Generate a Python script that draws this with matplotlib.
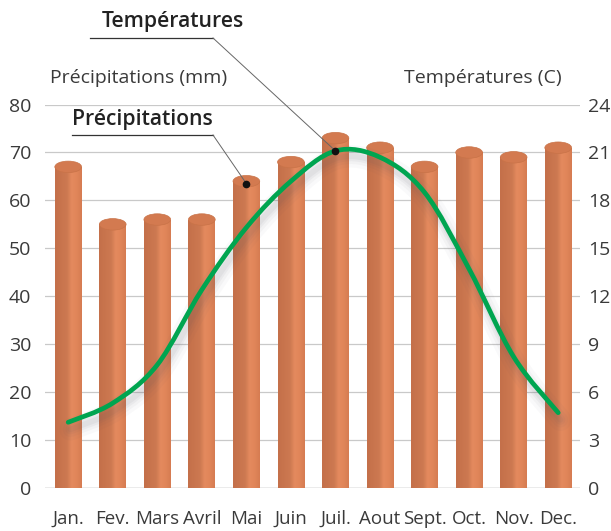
import matplotlib.pyplot as plt
import numpy as np
from matplotlib.patches import Rectangle, Ellipse, PathPatch
from matplotlib.path import Path

months = ["Jan.", "Fev.", "Mars", "Avril", "Mai", "Juin", "Juil.", "Aout",
          "Sept.", "Oct.", "Nov.", "Dec."]
precip = [67, 55, 56, 56, 64, 68, 73, 71, 67, 70, 69, 71]
temps = [4.1, 5.3, 7.7, 12.4, 16.3, 19.2, 21.1, 20.7, 18.5, 13.7, 8.2, 4.7]
left_ticks = [0, 10, 20, 30, 40, 50, 60, 70, 80]
right_ticks = [0, 3, 6, 9, 12, 15, 18, 21, 24]

FONT = "Open Sans"
TXT = "#3a3a3a"
GREEN = "#00a550"

fig = plt.figure(figsize=(6.11, 5.31), dpi=100)
ax = fig.add_axes([0.0737, 0.0815, 0.8756, 0.7215])
ax.set_xlim(-0.52, 11.49)
ax.set_ylim(0, 80)
for s in ax.spines.values():
    s.set_visible(False)

for t in left_ticks[1:]:
    ax.axhline(t, color="#c9c9c9", lw=0.9, zorder=0)
ax.axhline(0, color="#9a9a9a", lw=1.0, zorder=0)

ax.set_yticks(left_ticks)
ax.set_yticklabels([str(t) for t in left_ticks], fontsize=14, color=TXT, family=FONT)
ax.set_xticks(range(12))
ax.set_xticklabels(months, fontsize=13.5, color=TXT, family=FONT)
ax.tick_params(axis="x", length=0, pad=16)
ax.tick_params(axis="y", length=0, pad=10)

# cylinder gradient (left to right)
stops = np.array([0.0, 0.2, 0.45, 0.62, 0.8, 1.0])
cols = np.array([[196, 112, 74], [200, 116, 77], [205, 121, 81],
                 [228, 138, 94], [225, 134, 90], [214, 124, 82]]) / 255.0
xs = np.linspace(0, 1, 64)
grad = np.stack([np.interp(xs, stops, cols[:, c]) for c in range(3)], axis=-1)
grad = grad[np.newaxis, :, :]

bw = 0.6
eh = 2.4
for i, v in enumerate(precip):
    x0 = i - bw / 2
    body = Rectangle((x0, 0), bw, v, transform=ax.transData, facecolor="none",
                     edgecolor="none")
    ax.add_patch(body)
    im = ax.imshow(grad, extent=(x0, x0 + bw, 0, v), aspect="auto", zorder=2,
                   interpolation="bilinear")
    im.set_clip_path(body)
    bot = Ellipse((i, 0), bw, eh, transform=ax.transData, facecolor="none",
                  edgecolor="none")
    ax.add_patch(bot)
    im2 = ax.imshow(grad, extent=(x0, x0 + bw, -eh, 0.5), aspect="auto",
                    zorder=2, interpolation="bilinear")
    im2.set_clip_path(bot)
    ax.add_patch(Ellipse((i, v), bw, eh, facecolor="#d37a50",
                         edgecolor="#c97348", lw=0.5, zorder=3))

# temperature curve on the right axis
ax2 = ax.twinx()
ax2.set_ylim(0, 24)
ax2.set_xlim(ax.get_xlim())
for s in ax2.spines.values():
    s.set_visible(False)
ax2.set_yticks(right_ticks)
ax2.set_yticklabels([str(t) for t in right_ticks], fontsize=14, color=TXT, family=FONT)
ax2.tick_params(length=0, pad=6)


def smooth_path(xv, yv):
    pts = np.column_stack([xv, yv]).astype(float)
    verts = [pts[0]]
    codes = [Path.MOVETO]
    n = len(pts)
    for k in range(n - 1):
        p0 = pts[k - 1] if k > 0 else pts[k]
        p1 = pts[k]
        p2 = pts[k + 1]
        p3 = pts[k + 2] if k + 2 < n else pts[k + 1]
        c1 = p1 + (p2 - p0) / 6.0
        c2 = p2 - (p3 - p1) / 6.0
        verts += [c1, c2, p2]
        codes += [Path.CURVE4] * 3
    return Path(verts, codes)


xm = np.arange(12)
# soft shadow under the line
for w, a in [(16, 0.03), (11, 0.04), (7, 0.05), (4, 0.06)]:
    sh = smooth_path(xm + 0.05, np.array(temps) - 0.45)
    ax2.add_patch(PathPatch(sh, facecolor="none", edgecolor="#505060",
                            lw=w, alpha=a, capstyle="round", zorder=3))
ax2.add_patch(PathPatch(smooth_path(xm, temps), facecolor="none", edgecolor=GREEN,
                        lw=3.4, capstyle="round", joinstyle="round", zorder=4))

# axis titles
fig.text(50 / 611, 1 - 78 / 531, "Précipitations (mm)", fontsize=14, color=TXT,
         family=FONT, va="center", ha="left")
fig.text(562 / 611, 1 - 78 / 531, "Températures (C)", fontsize=14, color=TXT,
         family=FONT, va="center", ha="right")


# callouts
def callout(label, tx, ty, ux0, ux1, uy, px, py):
    fig.text(tx / 611, 1 - ty / 531, label, fontsize=15.2, color="#222222",
             family=FONT, fontweight="semibold", va="center", ha="left")
    fx = [ux0 / 611, ux1 / 611, px / 611]
    fy = [1 - uy / 531, 1 - uy / 531, 1 - py / 531]
    fig.add_artist(plt.Line2D(fx[:2], fy[:2], color="#333333", lw=0.9))
    fig.add_artist(plt.Line2D(fx[1:], fy[1:], color="#666666", lw=0.7))
    fig.add_artist(plt.Line2D([px / 611], [1 - py / 531], marker="o", ms=4.5,
                              color="#111111", lw=0))


# anchor points from data
def to_fig(axis, x, y):
    disp = axis.transData.transform((x, y))
    fx, fy = fig.transFigure.inverted().transform(disp)
    return fx * 611, (1 - fy) * 531


fig.canvas.draw()
px, py = to_fig(ax2, 6, temps[6])
callout("Températures", 102, 22, 90, 213, 38, px, py)
px, py = to_fig(ax, 4, precip[4] - 0.5)
callout("Précipitations", 72, 119, 72, 213, 135, px, py)

fig.savefig("out.png", dpi=100)
